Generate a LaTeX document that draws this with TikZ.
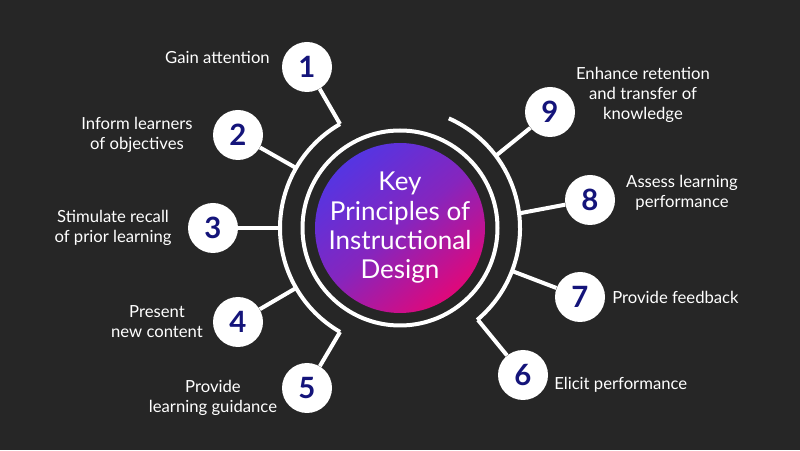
\documentclass[tikz,border=0pt]{standalone}
\usepackage{fontspec}
\setmainfont{Lato}
\definecolor{bg}{HTML}{262626}
\definecolor{navy}{HTML}{14147A}
\definecolor{hubblue}{HTML}{5535E2}
\definecolor{hubpink}{HTML}{E0087A}
\tikzset{
  numdot/.style={circle,fill=white,minimum size=37.5pt,inner sep=0pt,
    text=navy,font=\fontsize{22}{24}\selectfont\bfseries},
  spoke/.style={white,line width=3pt},
  lbl/.style={text=white,font=\fontsize{12.5}{15}\selectfont,align=center,inner sep=0pt}
}
\begin{document}
\begin{tikzpicture}[x=0.75pt,y=0.75pt]
	\fill[bg] (0,0) rectangle (800,450);
	\useasboundingbox (0,0) rectangle (800,450);
	\coordinate (C) at (400,222);
	% hub
	\shade[top color=hubblue,bottom color=hubpink,middle color=hubblue!65!hubpink,shading angle=40] (C) circle (85);
	\node[text=white,align=center,font=\fontsize{19.5}{22}\selectfont] (hub) at (C) {Key\\Principles of\\Instructional\\Design};
	\draw[white,line width=3pt] (C) circle (97.5);
	% outer arcs
	\draw[spoke] (C) ++(120:120) arc (120:240:120);
	\draw[spoke] (C) ++(66:120) arc (66:-50:120);
	% numbered dots
	\node[numdot] (n1) at (307,383) {1};
	\node[numdot] (n2) at (238,315) {2};
	\node[numdot] (n3) at (213,222) {3};
	\node[numdot] (n4) at (238,128) {4};
	\node[numdot] (n5) at (307,62) {5};
	\node[numdot] (n6) at (523,75) {6};
	\node[numdot] (n7) at (580,153) {7};
	\node[numdot] (n8) at (590,250) {8};
	\node[numdot] (n9) at (550,338) {9};
	% spokes
	\coordinate (s1) at (340,326);
	\coordinate (s5) at (340,118);
	\coordinate (s6) at (478,130);
	\draw[spoke] (s1) -- (n1);
	\draw[spoke] (C) ++(150:120) coordinate (s2) -- (n2);
	\draw[spoke] (C) ++(180:120) coordinate (s3) -- (n3);
	\draw[spoke] (C) ++(210:120) coordinate (s4) -- (n4);
	\draw[spoke] (s5) -- (n5);
	\draw[spoke] (s6) -- (n6);
	\draw[spoke] (C) ++(-21:120) coordinate (s7) -- (n7);
	\draw[spoke] (C) ++(7:120) coordinate (s8) -- (n8);
	\draw[spoke] (C) ++(37:120) coordinate (s9) -- (n9);
	% labels
	\node[lbl,anchor=east] (t1) at (270,393) {Gain attention};
	\node[lbl] (t2) at (137,315) {Inform learners\\of objectives};
	\node[lbl] (t3) at (113,222) {Stimulate recall\\of prior learning};
	\node[lbl] (t4) at (157,128) {Present\\new content};
	\node[lbl] (t5) at (213,52) {Provide\\learning guidance};
	\node[lbl,anchor=west] (t6) at (554,65) {Elicit performance};
	\node[lbl,anchor=west] (t7) at (612,153) {Provide feedback};
	\node[lbl] (t8) at (682,257) {Assess learning\\performance};
	\node[lbl] (t9) at (643,355) {Enhance retention\\and transfer of\\knowledge};
\end{tikzpicture}
\end{document}
